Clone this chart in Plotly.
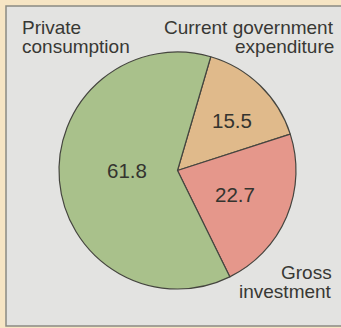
import plotly.graph_objects as go

# Shares of GDP by expenditure component (percent), listed clockwise from the top
categories = ["Current government expenditure", "Gross investment", "Private consumption"]
values = [15.5, 22.7, 61.8]
slice_colors = ["#e0ba8b", "#e5978b", "#a9c18b"]

W, H = 341, 328
cx, cy, r = 177.5, 170.5, 118.5

fig = go.Figure(go.Pie(
    labels=categories,
    values=values,
    sort=False,
    direction="clockwise",
    rotation=16.3,
    marker=dict(colors=slice_colors, line=dict(color="#45453f", width=1.2)),
    textinfo="none",
    hoverinfo="label+value",
    showlegend=False,
    domain=dict(x=[(cx - r) / W, (cx + r) / W],
                y=[(H - cy - r) / H, (H - cy + r) / H]),
))

FAMILY = "Liberation Sans, Arial, sans-serif"
label_font = dict(family=FAMILY, size=19, color="#383834")
value_font = dict(family=FAMILY, size=20.5, color="#34342f")

# Category names, one annotation per line: (text, x px, line-middle y px, anchor)
name_lines = [
    ("Private", 20, 27.5, "left"),
    ("consumption", 20, 46.5, "left"),
    ("Current government", 336, 27.5, "right"),
    ("expenditure", 336, 46.5, "right"),
    ("Gross", 334, 272.5, "right"),
    ("investment", 334, 291.5, "right"),
]
# Value labels placed inside their slices (centre px)
value_pos = {
    "Private consumption": (127, 170),
    "Current government expenditure": (232, 120),
    "Gross investment": (235, 194),
}

annotations = []
for text, x, y, anchor in name_lines:
    annotations.append(dict(text=text, x=x / W, y=1 - y / H, xanchor=anchor,
                            yanchor="middle", font=label_font))
for cat, v in zip(categories, values):
    x, y = value_pos[cat]
    annotations.append(dict(text=f"{v:.1f}", x=x / W, y=1 - y / H, xanchor="center",
                            yanchor="middle", font=value_font))
for a in annotations:
    a.update(xref="paper", yref="paper", showarrow=False)

fig.update_layout(
    width=W, height=H,
    margin=dict(l=0, r=0, t=0, b=0),
    paper_bgcolor="#f6e5c4",
    plot_bgcolor="#f6e5c4",
    annotations=annotations,
    shapes=[dict(type="rect", xref="paper", yref="paper",
                 x0=6 / W, x1=1.01, y0=2 / H, y1=1 - 6 / H,
                 fillcolor="#e3e3e1", line=dict(color="#8a8a82", width=1.5),
                 layer="below")],
)

fig.write_html("out.html")
